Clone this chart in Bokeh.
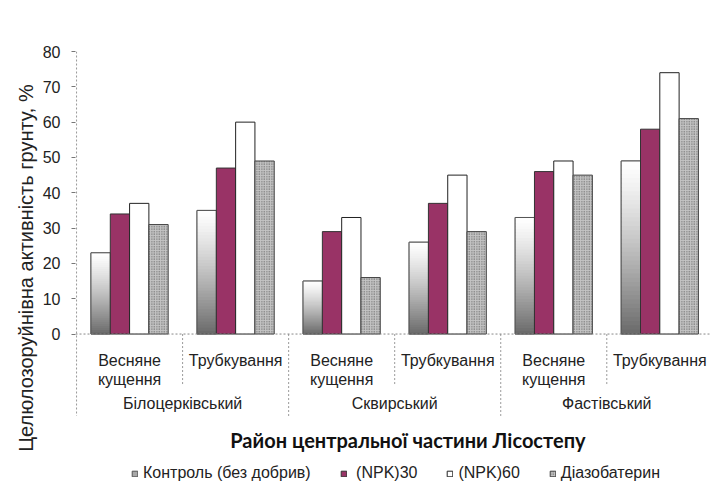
import numpy as np
from bokeh.plotting import figure
from bokeh.models import Range1d, FixedTicker, Span, Title, Legend, LegendItem
from bokeh.core.properties import value
from bokeh.embed import file_html
from bokeh.resources import INLINE

# ---- data ----
districts = ["Білоцерківський", "Сквирський", "Фастівський"]
phases = ["Весняне\nкущення", "Трубкування"]
series = ["Контроль (без добрив)", " (NPK)30", "(NPK)60", "Діазобатерин"]
control = [23, 35, 15, 26, 33, 49]
npk30 = [34, 47, 29, 37, 46, 58]
npk60 = [37, 60, 33, 45, 49, 74]
diazo = [31, 49, 16, 29, 45, 61]
y_ticks = [0, 10, 20, 30, 40, 50, 60, 70, 80]
y_title = "Целюлозоруйнівна активність грунту, %"
x_title = "Район центральної частини Лісостепу"

FONT = "Liberation Sans"
n_groups = len(districts) * len(phases)
centers = np.arange(n_groups) + 0.5
bw = 0.182

p = figure(width=710, height=484, output_backend="svg", toolbar_location=None,
           x_range=Range1d(-0.01, 5.978), y_range=Range1d(-42.6, 80),
           min_border_left=75, min_border_right=0, min_border_top=51, min_border_bottom=0,
           x_axis_location=None)
p.outline_line_color = None
p.grid.visible = False
p.background_fill_color = "white"

ya = p.yaxis[0]
ya.ticker = FixedTicker(ticks=y_ticks)
ya.minor_tick_line_color = None
ya.major_tick_in = 0
ya.major_tick_out = 4
ya.major_tick_line_color = "#777"
ya.axis_line_color = None
ya.major_label_standoff = 11
ya.major_label_text_font = FONT
ya.major_label_text_font_size = "16px"
ya.major_label_text_color = "#222"

# y title on the left side panel, shifted up to centre on the value area
p.add_layout(Title(text=y_title, align="center", offset=84, standoff=6,
                   text_font=FONT, text_font_size="20px", text_font_style="normal",
                   text_color="#222"), "left")

# zero line
p.add_layout(Span(location=0, dimension="width", line_color="#888", line_dash="2 2", line_width=1))

# vertical axis line and separators in the category area
sep_x = np.arange(0, n_groups)
sep_top = [80] + [0] * (n_groups - 1)
sep_bottom = [-23.2] + [(-14.4 if (i % 2 == 1) else -23.2) for i in range(1, n_groups)]
p.segment(x0=sep_x, y0=sep_top, x1=sep_x, y1=sep_bottom,
          line_color="#999", line_dash="2 2", line_width=1)

offs = [(k - 1.5) * bw for k in range(4)]

# Control: legend proxy underneath, then gradient slices, then outline
r_ctrl = p.vbar(x=centers + offs[0], width=bw, top=control, bottom=0,
                fill_color="#a8a8a8", line_color="#555")
N = 40
L, R, B, T, C = [], [], [], [], []
for cx, v in zip(centers + offs[0], control):
    for k in range(N):
        t = 1 - (k + 0.5) / N  # 0 at top, 1 at bottom
        g = int(round(255 - 150 * t ** 1.25))
        L.append(cx - bw / 2); R.append(cx + bw / 2)
        B.append(v * k / N); T.append(min(v, v * (k + 1.8) / N))
        C.append("#%02x%02x%02x" % (g, g, g))
p.quad(left=L, right=R, bottom=B, top=T, fill_color=C, line_color=None)
p.vbar(x=centers + offs[0], width=bw, top=control, bottom=0,
       fill_alpha=0, line_color="#555", line_width=1)

r30 = p.vbar(x=centers + offs[1], width=bw, top=npk30, bottom=0,
             fill_color="#993366", line_color="#333", line_width=1)
r60 = p.vbar(x=centers + offs[2], width=bw, top=npk60, bottom=0,
             fill_color="white", line_color="#222", line_width=1)
rdz = p.vbar(x=centers + offs[3], width=bw, top=diazo, bottom=0,
             fill_color="#c4c4c4", hatch_pattern="dot", hatch_color="#555",
             hatch_scale=2.5, hatch_weight=1, line_color="#444", line_width=1)

# category labels
sub1, sub2 = [], []
for i in range(n_groups):
    parts = phases[i % 2].split("\n")
    sub1.append(parts[0]); sub2.append(parts[1] if len(parts) > 1 else "")
p.text(x=centers, y=[-7.56] * n_groups, text=sub1, text_align="center",
       text_baseline="alphabetic", text_font=value(FONT), text_font_size="16px", text_color="#222")
p.text(x=centers, y=[-12.9] * n_groups, text=sub2, text_align="center",
       text_baseline="alphabetic", text_font=value(FONT), text_font_size="16px", text_color="#222")
p.text(x=[1, 3, 5], y=[-19.8] * 3, text=districts, text_align="center",
       text_baseline="alphabetic", text_font=value(FONT), text_font_size="16px", text_color="#222")

# x title
p.text(x=[3.125], y=[-30.0], text=[x_title], text_align="center", text_baseline="alphabetic",
       text_font=value("Lato"), text_font_style="bold", text_font_size="20px", text_color="#111")

legend = Legend(items=[LegendItem(label=s, renderers=[r]) for s, r in zip(series, [r_ctrl, r30, r60, rdz])],
                orientation="horizontal", location=(56, 2), glyph_width=7, glyph_height=7,
                label_standoff=5, spacing=29, padding=0, margin=0, border_line_alpha=0,
                background_fill_alpha=0, label_text_font=FONT, label_text_font_size="16px",
                label_text_color="#222", label_height=16)
p.add_layout(legend)

open("out.html", "w").write(file_html(p, INLINE))
